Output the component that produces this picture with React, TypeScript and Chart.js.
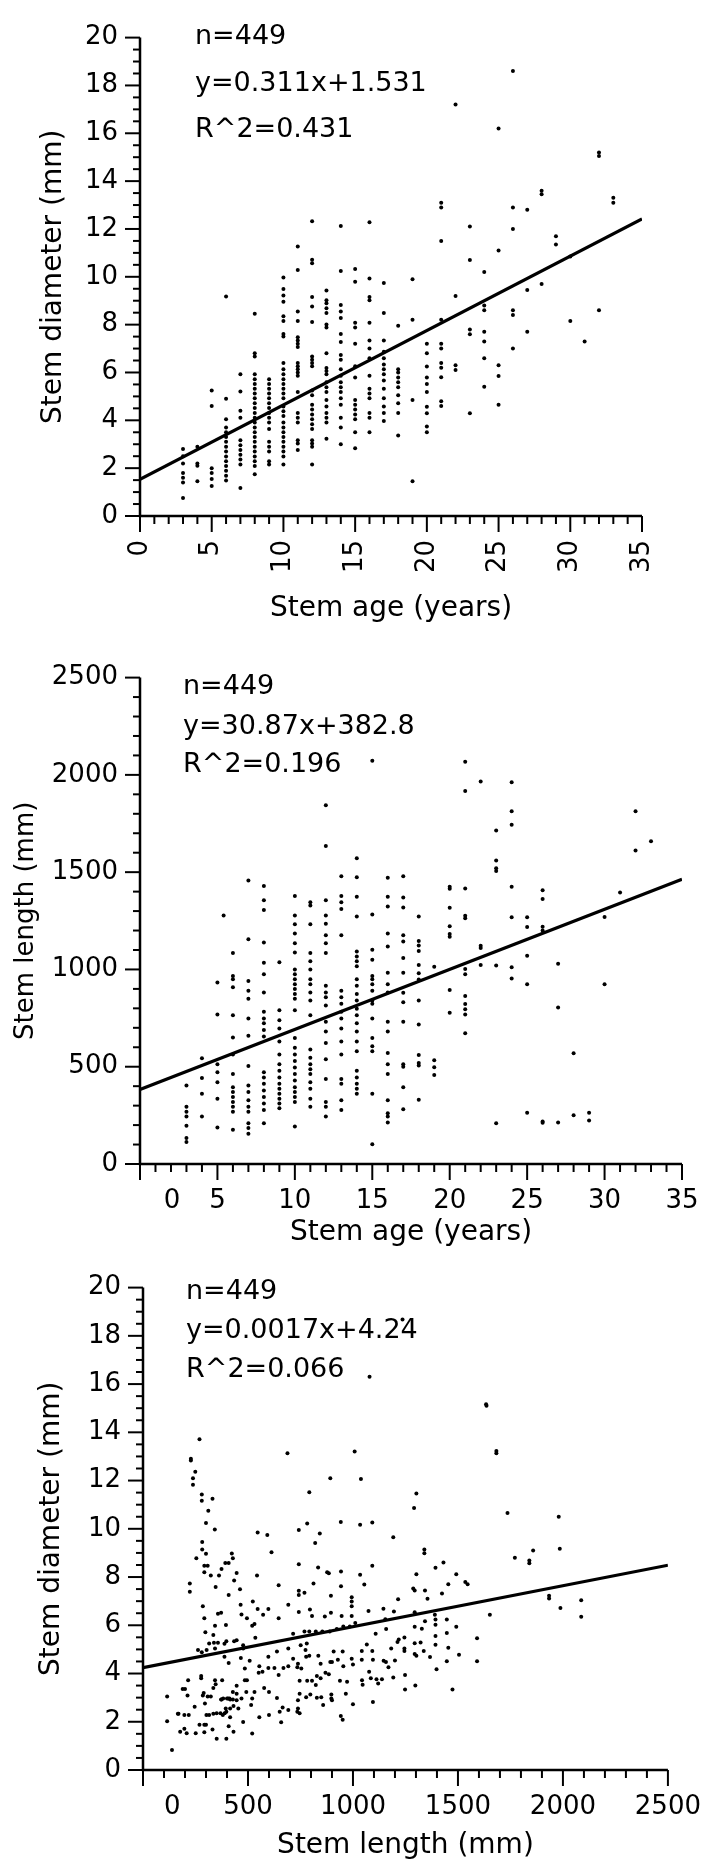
import React, { useEffect, useRef } from "react";
import { Chart, registerables } from "chart.js";

Chart.register(...registerables);

const FONT = '"DejaVu Sans", "Liberation Sans", sans-serif';

// ---------------- Plot 1: stem age vs stem diameter ----------------
const ageDiamAges = [3, 4, 5, 6, 7, 8, 9, 10, 11, 12, 13, 14, 15, 16, 17, 18, 19, 20, 21, 22, 23, 24, 25, 26, 27, 28, 29, 30, 31, 32, 33];
const ageDiamValues = [
  [2.8, 2.5, 2.2, 1.8, 1.6, 1.4, 0.75],
  [2.9, 2.2, 2.1, 1.45],
  [5.25, 4.6, 2.0, 1.8, 1.55, 1.25],
  [9.18, 4.9, 4.04, 3.7, 3.5, 3.3, 3.1, 2.9, 2.7, 2.49, 2.29, 2.09, 1.89, 1.68, 1.48],
  [5.93, 5.21, 4.4, 4.11, 3.17, 2.96, 2.76, 2.56, 2.36, 2.15, 1.17],
  [8.46, 6.8, 6.67, 5.93, 5.72, 5.52, 5.32, 5.12, 4.92, 4.71, 4.51, 4.31, 4.11, 3.91, 3.7, 3.5, 3.3, 3.1, 2.9, 2.7, 2.49, 2.29, 2.09, 1.75],
  [5.72, 5.52, 5.32, 5.12, 4.92, 4.71, 4.51, 4.31, 4.11, 3.91, 3.64, 3.1, 2.9, 2.7, 2.29, 2.15],
  [9.97, 9.49, 9.22, 8.96, 8.35, 8.15, 7.61, 7.5, 6.4, 6.13, 5.93, 5.72, 5.52, 5.32, 5.12, 4.92, 4.58, 4.38, 4.18, 3.91, 3.7, 3.5, 3.3, 3.1, 2.9, 2.7, 2.49, 2.15],
  [11.27, 10.28, 8.55, 8.15, 7.47, 7.34, 7.2, 7.07, 6.4, 6.26, 6.13, 6.0, 5.86, 5.18, 4.31, 4.11, 3.91, 3.17, 3.03, 2.76],
  [12.32, 10.71, 10.57, 9.16, 8.76, 8.11, 6.67, 6.53, 6.4, 6.26, 5.25, 5.05, 4.65, 4.45, 4.24, 4.04, 3.84, 3.64, 3.17, 3.03, 2.9, 2.15],
  [9.43, 9.02, 8.89, 8.69, 8.49, 8.01, 7.88, 6.8, 6.19, 6.06, 5.93, 5.59, 5.38, 5.18, 4.85, 4.58, 4.31, 4.11, 3.91, 3.23],
  [12.12, 10.24, 8.82, 8.55, 8.28, 7.61, 7.27, 6.73, 6.53, 6.13, 5.86, 5.59, 5.38, 5.18, 4.92, 4.65, 4.11, 3.7, 3.0],
  [10.33, 9.79, 8.08, 7.88, 7.2, 6.26, 5.79, 4.85, 4.65, 4.45, 4.24, 4.04, 3.5, 2.83],
  [12.28, 9.93, 9.16, 9.02, 8.08, 7.34, 7.0, 6.6, 5.86, 5.32, 5.12, 4.92, 4.31, 4.11, 3.5],
  [9.74, 8.49, 7.34, 6.87, 6.6, 6.33, 6.13, 5.93, 5.66, 5.32, 4.92, 4.58, 4.31, 3.97],
  [7.95, 6.13, 6.0, 5.79, 5.59, 5.38, 5.05, 4.71, 4.31, 3.37],
  [9.9, 8.2, 4.85, 1.45],
  [7.2, 6.8, 6.25, 5.79, 5.52, 5.18, 4.57, 4.3, 3.74, 3.5],
  [13.1, 12.9, 11.5, 8.2, 7.2, 7.0, 6.4, 6.2, 5.8, 4.8, 4.6],
  [17.2, 9.2, 6.3, 6.1],
  [12.1, 10.7, 7.8, 7.6, 4.3],
  [10.2, 8.8, 8.6, 7.7, 7.3, 6.6, 5.4],
  [16.2, 11.1, 6.3, 5.85, 4.65],
  [18.6, 12.9, 12.0, 8.6, 8.4, 7.0],
  [12.8, 9.45, 7.7],
  [13.6, 13.45, 9.7],
  [11.7, 11.35],
  [10.85, 8.15],
  [7.3],
  [15.2, 15.05, 8.6],
  [13.3, 13.1],
];

// ---------------- Plot 2: stem age vs stem length ----------------
const ageLenAges = [3, 4, 5, 5.4, 6, 7, 8, 9, 10, 11, 12, 13, 14, 15, 16, 17, 18, 19, 20, 21, 22, 23, 24, 25, 26, 27, 28, 29, 30, 31, 32, 33];
const ageLenValues = [
  [403, 294, 269, 244, 197, 134, 113],
  [543, 442, 361, 244],
  [933, 768, 513, 471, 420, 336, 188],
  [1277],
  [1084, 966, 950, 908, 765, 650, 563, 462, 395, 370, 345, 319, 294, 269, 176],
  [1457, 1155, 941, 891, 849, 748, 659, 504, 403, 370, 328, 294, 269, 210, 185, 156],
  [1429, 1356, 1306, 1138, 1034, 975, 882, 782, 748, 723, 689, 655, 471, 445, 412, 378, 345, 311, 277, 210],
  [1037, 790, 739, 697, 630, 563, 513, 479, 445, 412, 387, 361, 336, 311, 286],
  [1378, 1277, 1232, 1185, 1134, 1087, 1000, 975, 950, 924, 899, 874, 849, 790, 647, 597, 563, 529, 496, 462, 429, 395, 370, 345, 319, 193],
  [1345, 1328, 1232, 1084, 1042, 1000, 950, 924, 882, 840, 765, 588, 546, 513, 487, 462, 420, 387, 336, 294],
  [1844, 1635, 1356, 1277, 1235, 1176, 1134, 1084, 916, 882, 857, 815, 731, 681, 622, 538, 437, 319, 294, 244],
  [1479, 1378, 1345, 1311, 1176, 891, 857, 824, 782, 748, 697, 630, 563, 437, 412, 328, 277],
  [1571, 1474, 1373, 1272, 1092, 1067, 1042, 1017, 950, 916, 874, 840, 798, 765, 723, 681, 630, 580, 479, 445, 412, 387, 361],
  [2072, 1282, 1101, 1050, 966, 950, 924, 891, 840, 824, 748, 647, 605, 580, 361, 101],
  [1471, 1373, 1323, 1185, 1118, 983, 924, 882, 731, 681, 571, 513, 462, 328, 261, 244, 213],
  [1479, 1370, 1319, 1176, 1143, 1059, 983, 880, 832, 731, 513, 500, 395, 281],
  [1272, 1146, 1123, 1095, 1023, 980, 948, 840, 717, 560, 519, 506, 330],
  [1014, 533, 497, 458],
  [1425, 1415, 1317, 1222, 1182, 1168, 894, 777],
  [2068, 1917, 1416, 1276, 1263, 1002, 975, 863, 822, 795, 768, 672],
  [1966, 1122, 1110, 1023],
  [1714, 1560, 1520, 1506, 1020, 209],
  [1962, 1813, 1744, 1425, 1268, 1011, 953],
  [1268, 1218, 1070, 924, 263],
  [1407, 1362, 1220, 1200, 218, 212],
  [1029, 804, 213],
  [569, 250],
  [263, 223],
  [1270, 924],
  [1395],
  [1813, 1611],
  [1659],
];

// ---------------- Plot 3: stem length vs stem diameter ([length, diameter]) ----------------
const lenDiamShort = [
  [269, 13.71], [228, 12.9], [228, 12.83], [249, 12.37], [238, 12.1], [238, 11.83], [280, 11.42], [280, 11.16],
  [331, 11.25], [311, 10.75], [300, 10.24], [342, 9.97], [688, 13.13], [1008, 13.2], [892, 12.1], [1038, 12.06],
  [792, 11.52], [782, 10.22], [942, 10.28], [1034, 10.17], [1092, 10.26], [546, 9.85], [592, 9.74],
  [612, 9.03], [742, 9.95], [842, 9.81], [820, 9.41], [282, 9.45], [282, 9.14], [300, 8.97], [254, 8.78], [292, 8.47],
  [308, 8.47], [292, 8.2], [323, 8.06], [362, 8.06], [374, 8.33], [392, 8.58], [408, 8.58], [423, 8.98], [428, 8.78],
  [446, 8.17], [434, 7.86], [346, 7.59], [408, 7.26], [462, 7.49], [223, 7.73], [223, 7.39], [543, 8.06], [646, 7.66],
  [742, 8.53], [834, 8.4], [877, 8.2], [885, 8.16], [943, 8.23], [1092, 8.47], [1034, 8.1], [812, 7.73], [742, 7.43],
  [742, 7.26], [769, 7.35], [895, 7.22], [943, 7.62], [1054, 7.69], [994, 7.16], [994, 6.99], [994, 6.79],
  [285, 6.79], [292, 6.29], [297, 5.71], [357, 6.48], [372, 6.52], [343, 5.98], [335, 5.6], [395, 6.01], [465, 6.85],
  [469, 6.45], [495, 6.29], [523, 6.99], [520, 5.98], [531, 6.05], [546, 6.68], [572, 6.44], [597, 6.68], [535, 5.48],
  [646, 6.29], [692, 6.85], [742, 6.55], [805, 6.38], [795, 6.65], [866, 6.36], [895, 6.52], [946, 6.38], [994, 6.38],
  [1074, 6.59], [1145, 6.69], [715, 5.65], [769, 5.74], [792, 5.74], [823, 5.74], [854, 5.74], [889, 5.74], [923, 5.85],
  [954, 5.95], [985, 5.95], [1011, 6.09], [1108, 5.65], [1079, 16.3],
  [262, 4.97], [280, 4.88], [303, 4.97], [315, 5.24], [338, 5.28], [357, 5.28], [343, 5.04], [388, 5.23],
  [397, 5.34], [434, 5.34], [446, 5.38], [477, 5.17], [477, 5.04], [388, 4.7], [408, 4.44], [466, 4.64], [508, 4.53],
  [485, 4.21], [551, 4.03], [569, 4.07], [597, 4.7], [597, 4.23], [626, 4.23], [646, 3.94], [669, 4.23], [692, 4.3],
  [692, 5.04], [715, 4.61], [738, 4.4], [754, 4.21], [751, 5.17], [780, 5.24], [774, 4.97], [777, 4.7], [792, 4.74],
  [835, 4.74], [846, 4.4], [892, 4.48], [900, 4.48], [869, 4.03], [885, 3.97], [908, 4.91], [928, 4.57], [951, 4.91],
  [954, 4.3], [994, 4.61], [1000, 4.37], [1042, 4.93], [1042, 4.57], [1066, 5.2], [1092, 4.93], [1095, 4.57],
  [1146, 4.53], [1043, 3.72], [1046, 3.53], [1077, 4.07], [1085, 3.8], [1112, 3.76], [1120, 3.59], [1138, 3.76],
  [782, 3.7], [746, 3.7], [805, 3.7], [828, 3.9], [846, 3.8], [777, 3.02], [797, 3.13], [746, 3.16], [738, 2.89],
  [738, 2.55], [849, 3.02], [897, 3.13], [897, 2.96], [858, 2.69], [966, 3.16], [938, 3.7], [972, 3.66], [1000, 2.73],
  [1095, 2.82], [746, 2.35], [692, 2.49], [665, 2.59], [658, 1.98], [638, 2.98], [600, 3.23], [577, 3.4], [554, 2.19],
  [600, 2.28], [531, 3.23], [520, 2.96], [515, 2.69], [495, 3.72], [492, 3.23], [477, 1.99], [520, 1.51], [469, 2.96],
  [446, 2.89], [454, 2.55], [431, 2.65], [428, 3.23], [405, 2.96], [412, 2.96], [397, 2.42], [389, 2.35], [380, 2.28],
  [369, 2.35], [351, 2.35], [335, 2.33], [315, 2.28], [302, 2.28], [374, 2.92], [394, 2.55], [415, 2.55], [415, 2.19],
  [408, 1.81], [431, 1.59], [397, 1.3], [351, 1.3], [331, 1.68], [292, 1.88], [300, 1.88], [292, 1.57], [269, 1.88],
  [251, 1.52], [208, 1.52], [177, 1.59], [197, 1.71], [169, 2.33], [197, 2.28], [218, 2.28], [246, 2.62], [212, 3.09],
  [200, 3.36], [189, 3.36], [215, 3.72], [277, 3.9], [277, 3.8], [285, 3.09], [308, 3.05], [323, 3.05], [295, 2.76],
  [289, 3.19], [335, 3.4], [346, 3.56], [343, 3.72], [377, 3.72], [372, 2.92], [382, 2.96], [400, 2.96], [415, 2.92],
  [428, 2.92], [446, 3.16], [446, 3.49], [485, 3.72], [115, 3.05], [115, 2.02], [138, 0.83], [166, 2.33], [554, 4.3],
  [638, 4.91], [651, 2.42], [735, 2.42], [942, 2.24], [951, 2.08], [900, 2.89], [828, 3.0], [823, 3.52], [735, 4.26],
];
const lenDiamLong = [
  [1154, 6.25], [1158, 5.85], [1212, 5.31], [1182, 5.04], [1157, 4.48], [1169, 4.26], [1192, 3.83], [1192, 9.65], [1215, 7.08],
  [1236, 18.68], [1634, 15.16], [1636, 15.1], [1683, 13.23], [1683, 13.13], [1736, 10.65], [1980, 10.5], [1302, 11.46],
  [1291, 10.86], [1340, 9.14], [1340, 8.99], [1771, 8.8], [1840, 8.69], [1840, 8.57], [1858, 9.1], [1985, 9.17],
  [1393, 8.39], [1431, 8.6], [1492, 8.12], [1302, 8.12], [1454, 7.7], [1535, 7.79], [1546, 7.7], [1287, 7.52],
  [1294, 7.44], [1343, 7.44], [1355, 7.1], [1424, 7.32], [1934, 7.22], [1934, 7.11], [1988, 6.72], [2087, 7.04],
  [2087, 6.35], [1652, 6.44], [1195, 6.57], [1294, 6.54], [1294, 5.94], [1343, 6.17], [1328, 5.86], [1390, 6.44],
  [1393, 6.24], [1393, 6.02], [1447, 6.24], [1492, 5.94], [1447, 5.68], [1393, 5.56], [1218, 5.41], [1245, 5.49],
  [1245, 5.04], [1245, 4.93], [1294, 5.26], [1322, 5.29], [1294, 4.81], [1302, 4.74], [1337, 4.93],
  [1367, 4.69], [1393, 5.19], [1454, 5.07], [1505, 4.78], [1591, 5.46], [1591, 4.51], [1447, 4.51], [1398, 4.18],
  [1200, 4.54], [1248, 3.94], [1248, 3.34], [1297, 3.5], [1474, 3.34],
];

// ---------------- Fits, ticks, text ----------------
const fitSlopes = [0.311, 30.87, 0.0017];
const fitIntercepts = [1.531, 382.8, 4.24];
const fitTexts = [
  ["n=449", "y=0.311x+1.531", "R^2=0.431"],
  ["n=449", "y=30.87x+382.8", "R^2=0.196"],
  ["n=449", "y=0.0017x+4.24", "R^2=0.066"],
];
const ageTicks = [0, 5, 10, 15, 20, 25, 30, 35];
const diamTicks = [0, 2, 4, 6, 8, 10, 12, 14, 16, 18, 20];
const lengthTicksY = [0, 500, 1000, 1500, 2000, 2500];
const lengthTicksX = [0, 500, 1000, 1500, 2000, 2500];
const xTitles = ["Stem age (years)", "Stem age (years)", "Stem length (mm)"];
const yTitles = ["Stem diameter (mm)", "Stem length (mm)", "Stem diameter (mm)"];

type Spec = {
  top: number; height: number; padTop: number; padRight: number; yWidth: number; xHeight: number;
  points: { x: number; y: number }[];
  xMin: number; xMax: number; yMin: number; yMax: number;
  xTicks: number[]; yTicks: number[]; xMinorStep: number; yMinorStep: number;
  slope: number; intercept: number; xTitle: string; yTitle: string;
  yTitleSize: number; yTitlePad: number; xTitlePad: number;
  rotateX: boolean; xLabelPad: number; yLabelPad: number;
  zeroXAt: number | null; annot: string[]; annotX: number; annotY: number[];
};

const TICK_SIZE = 26;

function columnsToPoints(xs: number[], vals: number[][]) {
  const pts: { x: number; y: number }[] = [];
  xs.forEach((x, i) => vals[i].forEach((y) => pts.push({ x, y })));
  return pts;
}
function pairsToPoints(pairs: number[][]) {
  return pairs.map((p) => ({ x: p[0], y: p[1] }));
}

function decorPlugin(spec: Spec) {
  return {
    id: "decor",
    afterDraw(chart: any) {
      const ctx = chart.ctx as CanvasRenderingContext2D;
      const { left, right, top, bottom } = chart.chartArea;
      const xs = chart.scales.x;
      const ys = chart.scales.y;
      ctx.save();
      ctx.strokeStyle = "#000";
      ctx.lineWidth = 2.5;
      ctx.beginPath();
      ctx.moveTo(left, top);
      ctx.lineTo(left, bottom);
      ctx.lineTo(right, bottom);
      ctx.stroke();
      ctx.lineWidth = 2;
      const nx = Math.round((spec.xMax - spec.xMin) / spec.xMinorStep);
      for (let i = 0; i <= nx; i++) {
        const v = spec.xMin + i * spec.xMinorStep;
        const major = spec.xTicks.some((t) => Math.abs(t - v) < 1e-6);
        const px = xs.getPixelForValue(v);
        ctx.beginPath();
        ctx.moveTo(px, bottom);
        ctx.lineTo(px, bottom + (major ? 16 : 8));
        ctx.stroke();
      }
      const ny = Math.round((spec.yMax - spec.yMin) / spec.yMinorStep);
      for (let i = 0; i <= ny; i++) {
        const v = spec.yMin + i * spec.yMinorStep;
        const major = spec.yTicks.some((t) => Math.abs(t - v) < 1e-6);
        const py = ys.getPixelForValue(v);
        ctx.beginPath();
        ctx.moveTo(left, py);
        ctx.lineTo(left - (major ? 15 : 7), py);
        ctx.stroke();
      }
      ctx.fillStyle = "#000";
      ctx.font = `27px ${FONT}`;
      ctx.textAlign = "left";
      ctx.textBaseline = "middle";
      spec.annot.forEach((t, i) => ctx.fillText(t, spec.annotX, spec.annotY[i]));
      if (spec.zeroXAt !== null) {
        ctx.font = `${TICK_SIZE}px ${FONT}`;
        ctx.textAlign = "center";
        ctx.fillText("0", xs.getPixelForValue(spec.zeroXAt), bottom + spec.xLabelPad + (TICK_SIZE * 1.2) / 2);
      }
      ctx.restore();
    },
  };
}

function makeConfig(spec: Spec): any {
  const rot = spec.rotateX ? 90 : 0;
  const lineData = [spec.xMin, spec.xMax].map((x) => ({ x, y: spec.intercept + spec.slope * x }));
  return {
    type: "scatter",
    data: {
      datasets: [
        {
          data: spec.points,
          pointRadius: 2,
          pointBackgroundColor: "#000",
          pointBorderWidth: 0,
          backgroundColor: "#000",
          borderColor: "#000",
        },
        {
          data: lineData,
          showLine: true,
          pointRadius: 0,
          borderColor: "#000",
          borderWidth: 3.2,
          fill: false,
        },
      ],
    },
    options: {
      animation: false,
      responsive: false,
      devicePixelRatio: 1,
      events: [],
      layout: { padding: { left: 0, right: spec.padRight, top: spec.padTop, bottom: 0 } },
      plugins: { legend: { display: false }, tooltip: { enabled: false } },
      scales: {
        x: {
          type: "linear",
          position: "bottom",
          min: spec.xMin,
          max: spec.xMax,
          afterBuildTicks: (s: any) => {
            s.ticks = spec.xTicks.map((v) => ({ value: v }));
          },
          afterFit: (s: any) => {
            s.height = spec.xHeight;
          },
          grid: { display: false, drawTicks: false },
          border: { display: false },
          ticks: {
            autoSkip: false,
            minRotation: rot,
            maxRotation: rot,
            padding: spec.xLabelPad,
            color: "#000",
            font: { family: FONT, size: TICK_SIZE },
            callback: (v: number) => (spec.zeroXAt !== null && v === 0 ? "" : String(v)),
          },
          title: {
            display: true,
            text: spec.xTitle,
            color: "#000",
            font: { family: FONT, size: 28 },
            padding: { top: 0, bottom: spec.xTitlePad },
          },
        },
        y: {
          type: "linear",
          position: "left",
          min: spec.yMin,
          max: spec.yMax,
          afterBuildTicks: (s: any) => {
            s.ticks = spec.yTicks.map((v) => ({ value: v }));
          },
          afterFit: (s: any) => {
            s.width = spec.yWidth;
          },
          grid: { display: false, drawTicks: false },
          border: { display: false },
          ticks: {
            autoSkip: false,
            padding: spec.yLabelPad,
            color: "#000",
            font: { family: FONT, size: TICK_SIZE },
            callback: (v: number) => String(v),
          },
          title: {
            display: true,
            text: spec.yTitle,
            color: "#000",
            font: { family: FONT, size: spec.yTitleSize },
            padding: { top: spec.yTitlePad, bottom: 0 },
          },
        },
      },
    },
    plugins: [decorPlugin(spec)],
  };
}

const specs: Spec[] = [
  {
    top: 0, height: 626, padTop: 21, padRight: 81, yWidth: 140, xHeight: 110,
    points: columnsToPoints(ageDiamAges, ageDiamValues),
    xMin: 0, xMax: 35, yMin: 0, yMax: 20, xTicks: ageTicks, yTicks: diamTicks, xMinorStep: 1, yMinorStep: 0.5,
    slope: fitSlopes[0], intercept: fitIntercepts[0], xTitle: xTitles[0], yTitle: yTitles[0],
    yTitleSize: 28, yTitlePad: 37, xTitlePad: 0, rotateX: true, xLabelPad: 24, yLabelPad: 22,
    zeroXAt: null, annot: fitTexts[0], annotX: 195, annotY: [37, 84, 130],
  },
  {
    top: 640, height: 610, padTop: 28, padRight: 41, yWidth: 140, xHeight: 86,
    points: columnsToPoints(ageLenAges, ageLenValues),
    xMin: 0, xMax: 35, yMin: 0, yMax: 2500, xTicks: ageTicks, yTicks: lengthTicksY, xMinorStep: 1, yMinorStep: 100,
    slope: fitSlopes[1], intercept: fitIntercepts[1], xTitle: xTitles[1], yTitle: yTitles[1],
    yTitleSize: 26, yTitlePad: 11, xTitlePad: 0, rotateX: false, xLabelPad: 22, yLabelPad: 22,
    zeroXAt: 2.06, annot: fitTexts[1], annotX: 183, annotY: [687 - 640, 727 - 640, 765 - 640],
  },
  {
    top: 1250, height: 614, padTop: 24, padRight: 38, yWidth: 143, xHeight: 94,
    points: pairsToPoints(lenDiamShort).concat(pairsToPoints(lenDiamLong)),
    xMin: 0, xMax: 2500, yMin: 0, yMax: 20, xTicks: lengthTicksX, yTicks: diamTicks, xMinorStep: 100, yMinorStep: 0.5,
    slope: fitSlopes[2], intercept: fitIntercepts[2], xTitle: xTitles[2], yTitle: yTitles[2],
    yTitleSize: 28, yTitlePad: 35, xTitlePad: 1, rotateX: false, xLabelPad: 22, yLabelPad: 22,
    zeroXAt: 140, annot: fitTexts[2], annotX: 186, annotY: [1292 - 1250, 1331 - 1250, 1370 - 1250],
  },
];

function Plot({ spec }: { spec: Spec }) {
  const ref = useRef<HTMLCanvasElement | null>(null);
  useEffect(() => {
    if (!ref.current) return;
    const chart = new Chart(ref.current, makeConfig(spec));
    return () => chart.destroy();
  }, [spec]);
  return (
    <canvas
      ref={ref}
      width={723}
      height={spec.height}
      style={{ position: "absolute", left: 0, top: spec.top, width: 723, height: spec.height }}
    />
  );
}

export default function App() {
  return (
    <div style={{ position: "absolute", left: 0, top: 0, width: 723, height: 1864, background: "#fff", overflow: "hidden" }}>
      {specs.map((s, i) => (
        <Plot key={i} spec={s} />
      ))}
    </div>
  );
}
